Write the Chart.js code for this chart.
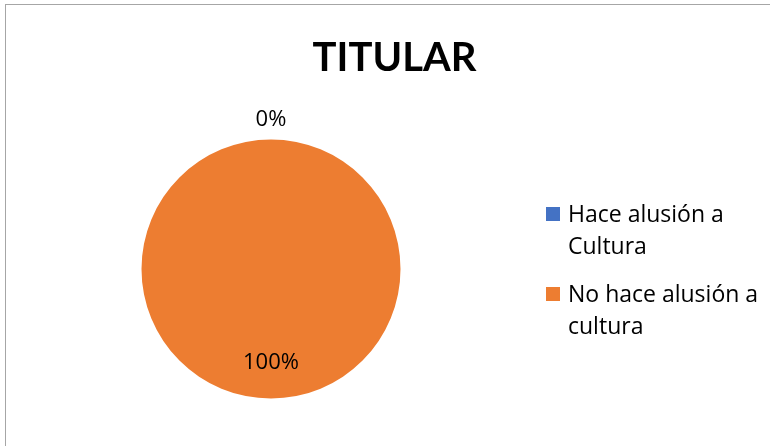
<!DOCTYPE html>
<html>
<head>
<meta charset="utf-8">
<script src="https://cdn.jsdelivr.net/npm/chart.js@4.4.1/dist/chart.umd.min.js"></script>
<style>
  html, body { margin: 0; padding: 0; background: #fff; overflow: hidden; }
  #frame {
    position: absolute; left: 5px; top: 4px; width: 800px; height: 500px;
    border: 1.5px solid #a6a6a6; box-sizing: border-box;
  }
  #wrap { position: absolute; left: 0; top: 0; width: 770px; height: 446px; }
</style>
</head>
<body>
<div id="frame"></div>
<div id="wrap"><canvas id="chart" width="770" height="446"></canvas></div>
<script>
const categories = [["Hace alusión a", "Cultura"], ["No hace alusión a", "cultura"]];
const percentages = [0, 100];
const sliceColors = ["#4472C4", "#ED7D31"];
const chartTitle = "TITULAR";

const TITLE_FONT = "Lato, 'Open Sans', sans-serif";
const FONT = "'Open Sans', Lato, sans-serif";

// title, legend and % labels drawn by hand (legend text wraps on two lines)
const decorations = {
  id: "decorations",
  afterDraw(chart) {
    const ctx = chart.ctx;
    ctx.save();
    ctx.fillStyle = "#000";

    // title
    ctx.font = "bold 40px " + TITLE_FONT;
    ctx.textAlign = "center";
    ctx.textBaseline = "alphabetic";
    ctx.fillText(chartTitle, 394.5, 71);

    // slice labels
    ctx.font = "22px " + FONT;
    ctx.textBaseline = "middle";
    const meta = chart.getDatasetMeta(0);
    meta.data.forEach((arc, i) => {
      const p = arc.getProps(["x", "y", "startAngle", "endAngle", "outerRadius"], true);
      const mid = (p.startAngle + p.endAngle) / 2;
      const k = percentages[i] === 0 ? 1.15 : 0.72;
      const x = p.x + Math.cos(mid) * p.outerRadius * k;
      const y = p.y + Math.sin(mid) * p.outerRadius * k;
      ctx.fillText(percentages[i] + "%", x, y);
    });

    // legend
    ctx.font = "23px " + FONT;
    ctx.textAlign = "left";
    ctx.textBaseline = "alphabetic";
    categories.forEach((lines, i) => {
      const top = 207 + i * 80;
      ctx.fillStyle = sliceColors[i];
      ctx.fillRect(546, top, 14, 14);
      ctx.fillStyle = "#000";
      lines.forEach((t, j) => ctx.fillText(t, 568, top + 15 + j * 32));
    });
    ctx.restore();
  }
};

new Chart(document.getElementById("chart"), {
  type: "pie",
  data: {
    labels: categories,
    datasets: [{
      data: percentages,
      backgroundColor: sliceColors,
      borderWidth: 0
    }]
  },
  options: {
    responsive: false,
    animation: false,
    layout: { padding: { left: 141, right: 369, top: 139.5, bottom: 47.5 } },
    plugins: {
      legend: { display: false },
      title: { display: false },
      tooltip: { enabled: false }
    }
  },
  plugins: [decorations]
});
</script>
</body>
</html>
